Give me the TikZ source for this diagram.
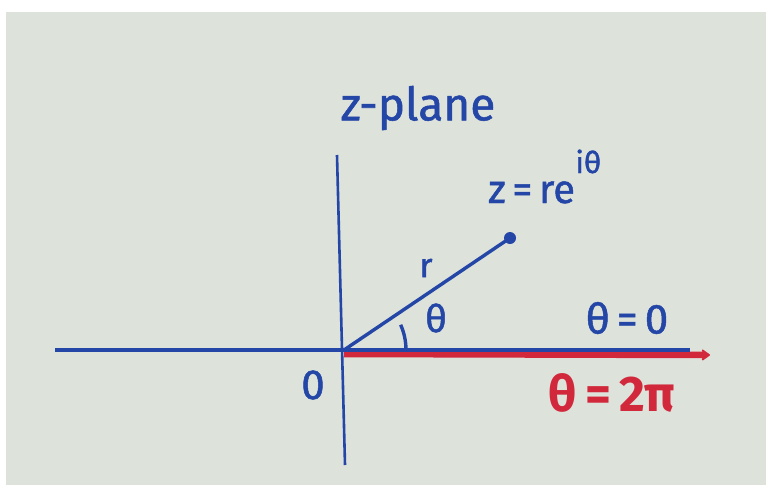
\documentclass[tikz,border=0pt]{standalone}
\usepackage{fontspec}
\setmainfont{Fira Sans}
\newfontfamily\hand[FakeBold=1.2]{Fira Sans}
\usetikzlibrary{arrows.meta}
\definecolor{paper}{RGB}{221,226,219}
\definecolor{ink}{RGB}{36,70,166}
\definecolor{redink}{RGB}{210,40,60}
\begin{document}
\begin{tikzpicture}[x=1pt,y=-1pt,
  bluetext/.style={text=ink,inner sep=0pt},
  redtext/.style={text=redink,inner sep=0pt,font=\fontsize{50}{54}\selectfont\bfseries},
  axisline/.style={draw=ink,line width=3.4pt},
  redline/.style={draw=redink,line width=6.5pt,-{Stealth[length=10pt,width=14pt,round]}}]
\useasboundingbox (0,0) rectangle (766,485);
\fill[white] (0,0) rectangle (766,485);
\fill[paper] (6,12) rectangle (766,485);
% coordinates
\coordinate (O) at (344,350);
\coordinate (xl) at (55,350);
\coordinate (xr) at (690,350);
\coordinate (yt) at (337,155);
\coordinate (yb) at (345,465);
\coordinate (P) at (510,238);
\coordinate (rs) at (344,354);
\coordinate (rend) at (710,355);
% red ray (theta = 2 pi)
\draw[redline] (rs) -- (rend);
% axes
\draw[axisline] (xl) -- (xr);
\draw[axisline,line width=2.6pt] (yt) -- (yb);
% radius
\draw[axisline] (O) -- (P);
\fill[ink] (P) circle (6pt);
% angle arc
\draw[axisline] ([xshift=62pt]O) arc[start angle=0,end angle=24,radius=62pt];
% labels
\node[bluetext,font=\hand\fontsize{46}{50}\selectfont] (plane) at (418,108) {z-plane};
\node[bluetext,font=\hand\fontsize{40}{44}\selectfont,anchor=base west] (zeq) at (488,203) {z\,=\,re};
\node[bluetext,font=\hand\fontsize{30}{34}\selectfont,anchor=base west] (sup) at (zeq.base east) [yshift=30pt] {iθ};
\node[bluetext,font=\hand\fontsize{34}{38}\selectfont] (r) at (426,268) {r};
\node[bluetext,font=\hand\fontsize{38}{42}\selectfont] (th) at (436,318) {θ};
\node[bluetext,font=\hand\fontsize{42}{46}\selectfont] (th0) at (627,318) {θ\,=\,0};
\node[bluetext,font=\hand\fontsize{42}{46}\selectfont] (zero) at (313,385) {0};
\node[redtext] (th2pi) at (612,393) {θ\,=\,2π};
\end{tikzpicture}
\end{document}
